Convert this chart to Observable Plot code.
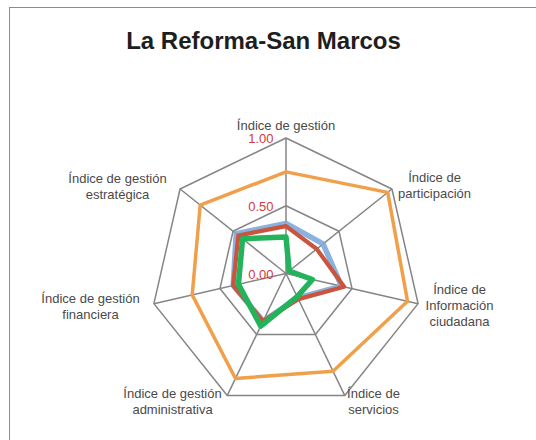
<!DOCTYPE html>
<html>
<head>
<meta charset="utf-8">
<script src="https://cdn.jsdelivr.net/npm/d3@7"></script>
<script src="https://cdn.jsdelivr.net/npm/@observablehq/plot@0.6"></script>
<style>
  html, body { margin: 0; padding: 0; background: #fff; }
  #wrap { position: relative; width: 536px; height: 440px; overflow: hidden; font-family: "Liberation Sans", Arial, sans-serif; }
  #frame { position: absolute; left: 9px; top: 7px; width: 600px; height: 500px; border: 1.5px solid #8c8c8c; box-sizing: border-box; }
  #title { position: absolute; left: 0; width: 527px; top: 29px; text-align: center; font-size: 24px; font-weight: bold; color: #1e1e1e; line-height: 24px; }
  #chart { position: absolute; left: 0; top: 0; }
</style>
</head>
<body>
<div id="wrap">
  <div id="frame"></div>
  <div id="chart"></div>
  <div id="title">La Reforma-San Marcos</div>
</div>
<script>
// ---- data ----
const axes = [
  "Índice de gestión",
  "Índice de\nparticipación",
  "Índice de\nInformación\nciudadana",
  "Índice de\nservicios",
  "Índice de gestión\nadministrativa",
  "Índice de gestión\nfinanciera",
  "Índice de gestión\nestratégica"
];
const seriesNames = ["Serie 1", "Serie 2", "Serie 3", "Serie 4"];
const serie1 = [0.75, 0.96, 0.92, 0.80, 0.86, 0.71, 0.81]; // orange
const serie2 = [0.37, 0.35, 0.42, 0.20, 0.39, 0.40, 0.47]; // blue
const serie3 = [0.35, 0.29, 0.44, 0.21, 0.39, 0.40, 0.45]; // red
const serie4 = [0.27, 0.03, 0.20, 0.19, 0.43, 0.36, 0.41]; // green
const tickValues = [0, 0.5, 1];
const tickLabels = ["0.00", "0.50", "1.00"];
const gridLevels = [0.5, 1];

// ---- styles ----
const seriesColors = ["#f0a04b", "#7ea9da", "#c9553f", "#22b35b"];
const seriesWidths = [3.5, 5.5, 4.2, 5.5];
const labelOffsets = [
  [0, -13.5], [42.6, -4], [41.4, 1], [28.7, 5.4],
  [-54.7, 5.4], [-63.4, 2], [-62.6, -3.5]
];

// ---- geometry helpers (polar -> cartesian in value units) ----
const n = axes.length;
const ang = i => (2 * Math.PI * i) / n;
const px = (v, i) => v * Math.sin(ang(i));
const py = (v, i) => -v * Math.cos(ang(i));

const allSeries = [serie1, serie2, serie3, serie4];
const pts = [];
allSeries.forEach((vals, s) => vals.forEach((v, i) => pts.push({s, x: px(v, i), y: py(v, i)})));

const grid = [];
gridLevels.forEach(l => axes.forEach((a, i) => grid.push({l, x: px(l, i), y: py(l, i)})));
const spokes = axes.map((a, i) => ({x1: 0, y1: 0, x2: px(1, i), y2: py(1, i)}));
const ticks = tickValues.map((v, k) => ({x: 0, y: -v, t: tickLabels[k]}));

const cx = 285.5, cy = 273, R = 135.5, W = 536, H = 440;

const marks = [
  Plot.line(grid, {x: "x", y: "y", z: "l", curve: "linear-closed", stroke: "#858585", strokeWidth: 1.5}),
  Plot.link(spokes, {x1: "x1", y1: "y1", x2: "x2", y2: "y2", stroke: "#858585", strokeWidth: 1.5})
];
allSeries.forEach((vals, s) => {
  marks.push(Plot.line(pts.filter(d => d.s === s), {
    x: "x", y: "y", curve: "linear-closed",
    stroke: seriesColors[s], strokeWidth: seriesWidths[s],
    strokeLinejoin: "round", strokeOpacity: s === 1 ? 0.9 : 1
  }));
});
marks.push(Plot.text(ticks, {x: "x", y: "y", text: "t", textAnchor: "end", dx: -12.5, dy: 1, fill: "#cf3a44", fontSize: 13}));
axes.forEach((a, i) => {
  marks.push(Plot.text([{x: px(1, i), y: py(1, i), t: a}], {
    x: "x", y: "y", text: "t", textAnchor: "middle", lineAnchor: "middle",
    dx: labelOffsets[i][0], dy: labelOffsets[i][1],
    fill: "#4a4a4a", fontSize: 13, lineHeight: 1.25
  }));
});

const chart = Plot.plot({
  width: W, height: H,
  margin: 0,
  style: {fontFamily: "'Liberation Sans', Arial, sans-serif", background: "transparent"},
  x: {domain: [-cx / R, (W - cx) / R], range: [0, W], axis: null},
  y: {domain: [-cy / R, (H - cy) / R], range: [0, H], axis: null},
  marks
});
document.getElementById("chart").appendChild(chart);
</script>
</body>
</html>
